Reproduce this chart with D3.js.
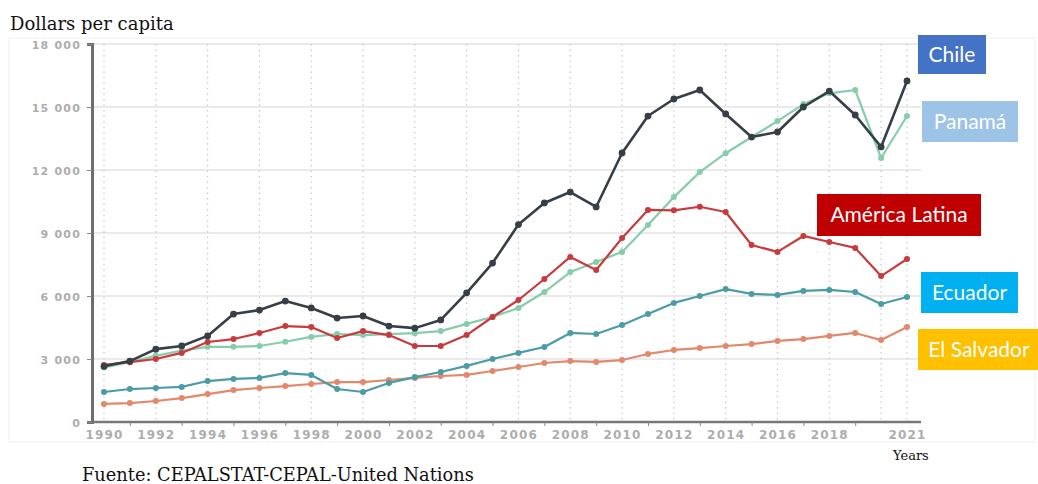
<!DOCTYPE html>
<head>
    <meta charset="UTF-8" />
    <style>
        body { margin: 0; padding: 0; background: #fff; }
        .serif { font-family: "DejaVu Serif", serif; fill: #111; }
        .tick text { font-family: "DejaVu Sans", sans-serif; fill: #adadad; font-weight: bold; letter-spacing: 1.2px; }
        .legend text { font-family: Lato, "Open Sans", sans-serif; fill: #fff; }
    </style>
    <title>Dollars per capita</title>
</head>
<svg width="1038" height="484"></svg>
<script src="https://d3js.org/d3.v7.min.js"></script>
<script>
    // data
    var years = d3.range(1990, 2022);
    var chile = [2650, 2900, 3470, 3620, 4100, 5140, 5330, 5760, 5430, 4950, 5050, 4570, 4470, 4860, 6150, 7570,
        9400, 10430, 10950, 10240, 12810, 14570, 15380, 15810, 14670, 13570, 13810, 15000, 15760, 14620, 13100, 16240];
    var panama = [2600, 2850, 3150, 3400, 3580, 3580, 3620, 3820, 4050, 4190, 4140, 4180, 4230, 4330, 4670, 5000,
        5430, 6190, 7140, 7620, 8100, 9380, 10710, 11900, 12800, 13570, 14330, 15140, 15650, 15810, 12570, 14570];
    var latam = [2720, 2850, 3000, 3290, 3810, 3950, 4240, 4570, 4520, 4000, 4330, 4140, 3620, 3620, 4140, 5000,
        5810, 6810, 7860, 7240, 8760, 10100, 10080, 10250, 10000, 8430, 8100, 8860, 8570, 8290, 6950, 7760];
    var ecuador = [1430, 1570, 1620, 1670, 1950, 2050, 2100, 2330, 2240, 1570, 1430, 1860, 2140, 2380, 2670, 3000,
        3290, 3570, 4240, 4190, 4620, 5140, 5670, 6000, 6330, 6100, 6050, 6240, 6290, 6190, 5620, 5950];
    var salvador = [860, 900, 1000, 1140, 1330, 1520, 1620, 1710, 1810, 1900, 1900, 2000, 2100, 2190, 2240, 2430,
        2620, 2810, 2900, 2860, 2950, 3240, 3430, 3520, 3620, 3710, 3860, 3950, 4100, 4240, 3900, 4520];

    var yTicks = [0, 3000, 6000, 9000, 12000, 15000, 18000];
    var xLabels = [1990, 1992, 1994, 1996, 1998, 2000, 2002, 2004, 2006, 2008, 2010, 2012, 2014, 2016, 2018, 2021];
    var xGrid = [1990, 1992, 1994, 1996, 1998, 2000, 2002, 2004, 2006, 2008, 2010, 2012, 2014, 2016, 2018, 2020, 2021];

    var seriesNames = ["El Salvador", "Ecuador", "Panamá", "América Latina", "Chile"];
    var seriesValues = [salvador, ecuador, panama, latam, chile];
    var lineColors = ["#e2896c", "#4b9ca6", "#86cdaa", "#c93a3d", "#363f48"];
    var boxColors = ["#ffc000", "#00b0f0", "#9dc3e6", "#c00000", "#4472c4"];

    var svg = d3.select("svg");

    var x = d3.scaleLinear().domain([1990, 2021]).range([104, 907]);
    var y = d3.scaleLinear().domain([0, 18000]).range([422, 44]);
    var x0 = 92, x1 = 921;

    // faint frame of the pasted chart
    svg.append("rect").attr("x", 9).attr("y", 38).attr("width", 1026).attr("height", 404)
        .attr("fill", "none").attr("stroke", "#f1f1f1");

    // horizontal grid
    svg.append("g").selectAll("line").data(yTicks.slice(1)).enter().append("line")
        .attr("x1", x0).attr("x2", x1)
        .attr("y1", d => y(d)).attr("y2", d => y(d))
        .attr("stroke", "#e3e3e3").attr("stroke-width", 1.3);

    // vertical dotted grid
    svg.append("g").selectAll("line").data(xGrid).enter().append("line")
        .attr("x1", d => x(d)).attr("x2", d => x(d))
        .attr("y1", y(18000)).attr("y2", y(0))
        .attr("stroke", "#c9c9c9").attr("stroke-width", 1.2).attr("stroke-dasharray", "1.5,4");

    // y axis
    var fmt = d => d3.format(",")(d).replace(",", " ");
    var yAxis = svg.append("g").attr("transform", "translate(" + x0 + ",0)")
        .call(d3.axisLeft(y).tickValues(yTicks).tickFormat(fmt).tickSize(5).tickPadding(6));
    yAxis.selectAll(".tick text").attr("font-size", 11).attr("dy", "0.4em");
    yAxis.selectAll(".tick line").attr("stroke", "#888");
    yAxis.select(".domain").attr("stroke", "#6e6e6e").attr("stroke-width", 3);

    // x axis: tick marks on odd years, labels on even years
    var xAxis = svg.append("g").attr("transform", "translate(0," + y(0) + ")")
        .call(d3.axisBottom(x).tickValues(d3.range(1991, 2020, 2)).tickFormat("").tickSize(4).tickSizeOuter(0));
    xAxis.select(".domain").attr("stroke", "#777").attr("stroke-width", 2.5)
        .attr("d", "M" + x0 + ",0H" + x1);
    xAxis.selectAll(".tick line").attr("stroke", "#888");

    var xLab = svg.append("g").attr("transform", "translate(0," + y(0) + ")")
        .call(d3.axisBottom(x).tickValues(xLabels).tickFormat(d3.format("d")).tickSize(0).tickPadding(8));
    xLab.select(".domain").remove();
    xLab.selectAll(".tick text").attr("font-size", 12);

    // lines and markers
    var line = d3.line().x((d, i) => x(years[i])).y(d => y(d));
    seriesValues.forEach(function (vals, k) {
        var g = svg.append("g");
        g.append("path").datum(vals)
            .attr("d", line)
            .attr("fill", "none")
            .attr("stroke", lineColors[k])
            .attr("stroke-width", k == 4 ? 2.6 : 2.2)
            .attr("stroke-linejoin", "round");
        g.selectAll("circle").data(vals).enter().append("circle")
            .attr("cx", (d, i) => x(years[i]))
            .attr("cy", d => y(d))
            .attr("r", k == 4 ? 3.4 : 3)
            .attr("fill", lineColors[k]);
    });

    // label boxes
    var boxes = [
        { x: 918, y: 329, w: 122, h: 41 },
        { x: 921, y: 272, w: 97, h: 41 },
        { x: 922, y: 101, w: 96, h: 41 },
        { x: 817, y: 194, w: 164, h: 42 },
        { x: 918, y: 35, w: 68, h: 39 }
    ];
    var legend = svg.append("g").attr("class", "legend");
    seriesNames.forEach(function (name, k) {
        var b = boxes[k];
        legend.append("rect").attr("x", b.x).attr("y", b.y).attr("width", b.w).attr("height", b.h)
            .attr("fill", boxColors[k]);
        legend.append("text").attr("x", b.x + b.w / 2).attr("y", b.y + b.h / 2 + 7)
            .attr("text-anchor", "middle").attr("font-size", 21).text(name);
    });

    // texts
    svg.append("text").attr("class", "serif").attr("x", 10).attr("y", 30).attr("font-size", 18).text("Dollars per capita");
    svg.append("text").attr("class", "serif").attr("x", 893).attr("y", 460).attr("font-size", 13).text("Years");
    svg.append("text").attr("class", "serif").attr("x", 82).attr("y", 481).attr("font-size", 17.8)
        .text("Fuente: CEPALSTAT-CEPAL-United Nations");
</script>
